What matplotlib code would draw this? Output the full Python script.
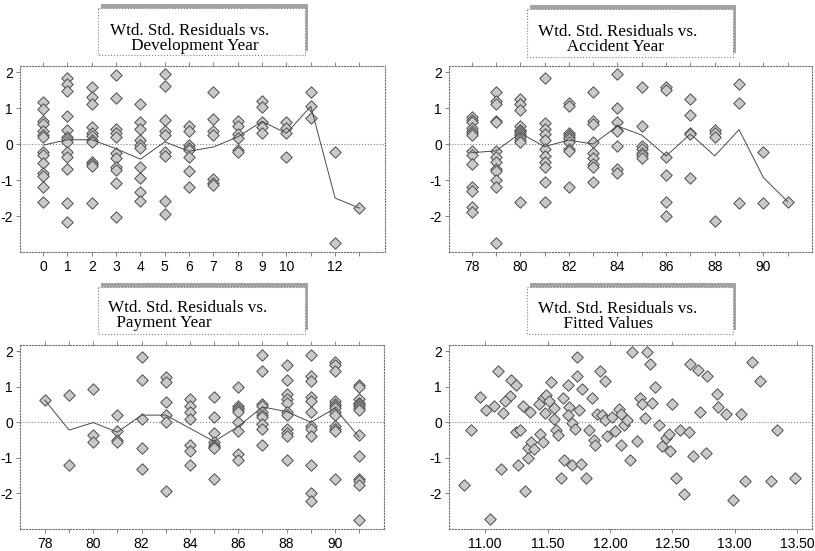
import matplotlib
matplotlib.use("Agg")
import matplotlib.pyplot as plt
from matplotlib.patches import Rectangle
import numpy as np

# residuals by development year (0..13)
dev_years = list(range(14))
dev_resid = [
    [1.17, 0.97, 0.64, 0.55, 0.35, 0.25, 0.2, -0.22, -0.3, -0.52, -0.8, -0.88, -1.2, -1.6],
    [1.85, 1.67, 1.47, 0.78, 0.38, 0.2, 0.15, 0.05, -0.22, -0.35, -0.68, -1.65, -2.17],
    [1.6, 1.3, 1.1, 0.48, 0.3, 0.22, 0.12, 0.05, -0.5, -0.55, -0.6, -1.65],
    [1.92, 1.27, 0.42, 0.3, 0.2, -0.26, -0.4, -0.63, -0.72, -1.07, -2.02],
    [1.12, 0.62, 0.42, 0.1, -0.03, -0.1, -0.65, -0.95, -1.32, -1.57],
    [1.95, 1.62, 0.68, 0.37, 0.25, -0.22, -0.33, -1.58, -1.93],
    [0.5, 0.35, -0.03, -0.1, -0.17, -0.37, -0.74, -1.2],
    [1.45, 0.7, 0.35, 0.25, -0.98, -1.07, -1.15],
    [0.65, 0.5, 0.28, 0.18, -0.17, -0.21],
    [1.2, 1.03, 0.6, 0.47, 0.3],
    [0.6, 0.45, 0.3, -0.35],
    [1.45, 1.05, 0.72],
    [-0.22, -2.75],
    [-1.78],
]
dev_mean = [-0.03, 0.12, 0.12, -0.13, -0.42, 0.06, -0.2, -0.08, 0.2, 0.63, 0.3, 1.05, -1.5, -1.78]
dev_ticklabels = ["0", "1", "2", "3", "4", "5", "6", "7", "8", "9", "10", "", "12", ""]

# residuals by accident year
acc_years = list(range(78, 92))
acc_resid = [
    [0.74, 0.68, 0.62, 0.45, 0.35, 0.3, 0.25, -0.2, -0.3, -0.55, -1.2, -1.3, -1.75, -1.9],
    [1.45, 1.2, 1.1, 0.65, 0.6, -0.2, -0.35, -0.5, -0.7, -0.75, -1.0, -1.2, -2.75],
    [1.25, 1.1, 0.95, 0.5, 0.4, 0.35, 0.3, 0.25, 0.2, 0.1, 0.05, -1.6],
    [1.85, 0.58, 0.42, 0.28, 0.12, -0.15, -0.32, -0.5, -0.65, -1.05, -1.6],
    [1.15, 1.05, 0.3, 0.25, 0.2, 0.15, 0.05, -0.15, -0.2, -1.2],
    [1.45, 0.65, 0.55, 0.05, -0.25, -0.4, -0.55, -0.65, -1.05],
    [1.95, 1.0, 0.6, 0.4, 0.35, -0.05, -0.7, -0.8],
    [1.6, 0.5, -0.05, -0.15, -0.25, -0.3, -0.4],
    [1.6, 1.5, -0.35, -0.85, -1.6, -2.0],
    [1.25, 0.8, 0.3, 0.28, -0.95],
    [0.4, 0.3, 0.2, -2.15],
    [1.68, 1.15, -1.65],
    [-0.22, -1.65],
    [-1.6],
]
acc_mean = [-0.24, -0.19, 0.3, -0.07, 0.11, 0.0, 0.5, 0.25, -0.33, 0.28, -0.33, 0.4, -0.93, -1.6]

# residuals by payment year
pay_years = list(range(78, 92))
pay_resid = [
    [0.62],
    [0.76, -1.2],
    [0.94, -0.35, -0.56],
    [0.2, -0.26, -0.51, -0.56],
    [1.84, 1.18, 0.09, -0.72, -1.32],
    [1.28, 1.13, 0.57, 0.2, 0.02, -1.93],
    [0.65, 0.45, 0.3, 0.1, -0.65, -0.8, -1.2],
    [0.7, 0.15, -0.3, -0.55, -0.65, -0.7, -0.72, -1.6],
    [1.0, 0.45, 0.4, 0.35, 0.3, 0.0, -0.25, -0.9, -1.05],
    [1.9, 1.45, 0.5, 0.45, 0.3, 0.2, 0.15, -0.05, -0.2, -0.65],
    [1.6, 1.2, 0.8, 0.65, 0.55, 0.3, 0.2, -0.2, -0.3, -0.4, -1.05],
    [1.9, 1.3, 1.15, 0.7, 0.6, 0.3, -0.1, -0.2, -0.4, -1.2, -2.0, -2.2],
    [1.7, 1.6, 1.45, 0.6, 0.5, 0.45, 0.4, 0.3, 0.2, -0.1, -0.2, -0.25, -1.6],
    [1.05, 1.0, 0.65, 0.55, 0.5, 0.45, 0.4, 0.35, -0.35, -0.95, -1.6, -1.65, -1.75, -2.75],
]
pay_mean = [0.62, -0.22, -0.01, -0.28, 0.2, 0.2, -0.17, -0.54, -0.12, 0.43, 0.3, 0.0, 0.39, -0.42]

year_ticklabels = ["78", "", "80", "", "82", "", "84", "", "86", "", "88", "", "90", ""]

# residuals against fitted values
fitted = [
    10.96, 11.10, 11.21, 11.25, 11.20, 11.46, 11.49, 11.53, 11.62, 11.66,
    11.74, 11.74, 11.78, 11.86, 11.92, 11.96, 12.18, 12.24, 12.30, 12.32,
    12.36, 12.64, 12.71, 12.78, 12.86, 13.14, 13.20,
    10.83, 10.89, 11.01, 11.04, 11.07, 11.14, 11.13, 11.16, 11.25, 11.28,
    11.26, 11.30, 11.36, 11.32, 11.34, 11.37, 11.34, 11.39, 11.43, 11.44,
    11.46, 11.48, 11.51, 11.55, 11.55, 11.57, 11.58, 11.63, 11.61, 11.67,
    11.66, 11.70, 11.70, 11.72, 11.75, 11.77, 11.81, 11.83, 11.87, 11.88,
    11.90, 11.94, 11.96, 11.98, 12.02, 12.04, 12.07, 12.09, 12.09, 12.11,
    12.14, 12.16, 12.22, 12.26, 12.28, 12.34, 12.39, 12.42, 12.45, 12.47,
    12.48, 12.50, 12.53, 12.56, 12.59, 12.63, 12.67, 12.72, 12.77, 12.87,
    12.93, 12.99, 13.05, 13.08, 13.29, 13.34, 13.48,
]
fitted_resid = [
    0.71, 1.45, 1.20, 1.06, 0.73, 0.67, 0.76, 1.12, 0.67, 1.04,
    1.29, 1.84, 0.92, 0.67, 1.45, 1.16, 1.96, 0.67, 1.96, 1.64,
    0.99, 1.64, 1.47, 1.29, 0.78, 1.68, 1.17,
    -1.77, -0.21, 0.34, -2.73, 0.45, 0.25, -1.31, 0.60, -0.28, -0.21,
    -1.19, 0.45, 0.30, -1.93, -0.72, -0.56, -1.00, -0.75, 0.51, -0.33,
    -0.56, 0.27, 0.59, 0.39, 0.09, -0.21, -0.36, -1.06, -1.58, 0.43,
    0.19, -1.19, -0.01, -0.19, 0.34, -1.17, -1.57, -0.21, -0.49, -0.65,
    0.22, 0.20, 0.06, -0.38, 0.16, -0.26, 0.36, 0.23, -0.63, -0.07,
    0.05, -1.06, -0.54, 0.51, 0.11, 0.55, -0.07, -0.68, -0.44, -0.32,
    -0.81, 0.51, -1.57, -0.23, -2.02, -0.28, -0.95, 0.28, -0.86, 0.43,
    0.22, -2.18, 0.22, -1.65, -1.65, -0.23, -1.58,
]
fitted_ticks = [11.0, 11.5, 12.0, 12.5, 13.0, 13.5]

# two-line titles, second line indented with spaces
titles = [
    "Wtd. Std. Residuals vs.\n     Development Year",
    "Wtd. Std. Residuals vs.\n       Accident Year",
    "Wtd. Std. Residuals vs.\n  Payment Year",
    "Wtd. Std. Residuals vs.\n      Fitted Values",
]

# ---- layout, in pixels from the top-left corner
W, H = 815, 551
axes_px = [(20, 66, 385, 252), (449, 66, 812, 252), (20, 345, 384, 529), (449, 345, 812, 529)]
# title box (x0, y0, x1, y1) and text anchor (left x, baseline of the last line)
box_px = [
    ((98, 8, 305, 55), (110, 50.5)),
    ((527, 9, 733, 57), (538, 50.7)),
    ((98, 287, 305, 334), (108, 327.3)),
    ((527, 287, 733, 334), (538, 328.3)),
]
xlims = [(-0.95, 14.05), (77.07, 92.0), (76.97, 92.03), (10.71, 13.62)]

FRAME_C = "#707070"
LINE_C = "#4a4a4a"
FACE_C = "#c9c9c9"
EDGE_C = "#4d4d4d"

plt.rcParams["font.family"] = ["Liberation Sans", "DejaVu Sans"]
plt.rcParams["font.size"] = 9.5

fig = plt.figure(figsize=(W / 100, H / 100), dpi=100)
fig.patch.set_facecolor("white")

# full-figure layer used for the title boxes
bg = fig.add_axes([0, 0, 1, 1])
bg.set_xlim(0, W)
bg.set_ylim(H, 0)
bg.axis("off")

for ((x0, y0, x1, y1), (tx, ty)), title in zip(box_px, titles):
    # drop shadow up and to the right, then the white box on top
    bg.add_patch(Rectangle((x0 + 3, y0 - 4), x1 - x0, y1 - y0, facecolor="#a3a3a3",
                           edgecolor="none", zorder=1))
    bg.add_patch(Rectangle((x0, y0), x1 - x0, y1 - y0, facecolor="white",
                           edgecolor="#808080", lw=0.8, ls=":", zorder=2))
    bg.text(tx, ty, title, ha="left", va="baseline", multialignment="left",
            linespacing=0.92, fontfamily="Liberation Serif", fontsize=12.3,
            color="black", zorder=3)

axes = []
for (l, t, r, b) in axes_px:
    axes.append(fig.add_axes([l / W, 1 - b / H, (r - l) / W, (b - t) / H]))


def draw_groups(ax, xs, groups, means):
    px = np.repeat(xs, [len(g) for g in groups])
    py = np.concatenate([np.array(g, dtype=float) for g in groups])
    ax.scatter(px, py, marker="D", s=34, facecolor=FACE_C, edgecolor=EDGE_C,
               linewidths=0.7, zorder=2)
    ax.plot(xs, means, color=LINE_C, lw=0.7, zorder=3)


draw_groups(axes[0], dev_years, dev_resid, dev_mean)
draw_groups(axes[1], acc_years, acc_resid, acc_mean)
draw_groups(axes[2], pay_years, pay_resid, pay_mean)
axes[3].scatter(fitted, fitted_resid, marker="D", s=34, facecolor=FACE_C,
                edgecolor=EDGE_C, linewidths=0.7, zorder=2)

axes[0].set_xticks(dev_years)
axes[0].set_xticklabels(dev_ticklabels)
axes[1].set_xticks(acc_years)
axes[1].set_xticklabels(year_ticklabels)
axes[2].set_xticks(pay_years)
axes[2].set_xticklabels(year_ticklabels)
axes[3].set_xticks(fitted_ticks)
axes[3].set_xticklabels(["%.2f" % v for v in fitted_ticks])

for ax, xl in zip(axes, xlims):
    ax.set_xlim(xl)
    ax.set_ylim(-3.0, 2.17)
    ax.set_yticks([-2, -1, 0, 1, 2])
    ax.set_yticklabels(["-2", "-1", "0", "1", "2"])
    ax.axhline(0, color="#808080", lw=0.8, ls=":", zorder=1)
    for s in ax.spines.values():
        s.set_linestyle(":")
        s.set_color(FRAME_C)
        s.set_linewidth(0.8)
    ax.tick_params(axis="both", direction="out", length=3, width=0.6, color=FRAME_C,
                   labelsize=10, labelcolor="black")
    ax.tick_params(axis="x", top=True, labeltop=False, pad=3)
    ax.tick_params(axis="y", right=False, pad=2)
    ax.set_facecolor("white")

fig.savefig("out.png", dpi=100)
